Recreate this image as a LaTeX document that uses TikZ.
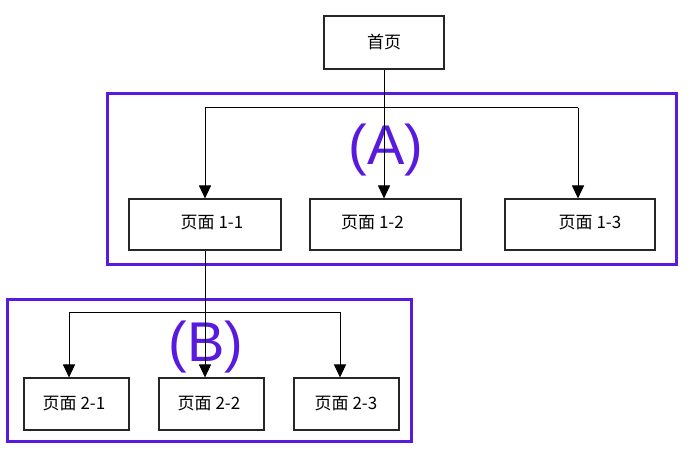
\documentclass[tikz,border=0pt]{standalone}
\usepackage{fontspec}
\setmainfont{Liberation Sans}
\newfontfamily\cjk{Noto Sans CJK SC}
\usetikzlibrary{arrows.meta}
\definecolor{frameblue}{RGB}{88,26,222}
\tikzset{
  pagebox/.style={draw=black!85, line width=1.1pt, fill=white, inner sep=0pt},
  conn/.style={draw=black, line width=1pt},
  arr/.style={conn, -{Triangle[length=13pt,width=12pt]}},
  groupframe/.style={draw=frameblue, line width=3pt},
  grouplabel/.style={text=frameblue, font=\fontsize{56}{56}\selectfont, inner sep=0pt},
  boxtext/.style={font=\cjk\fontsize{17}{17}\selectfont}
}
\begin{document}
\begin{tikzpicture}[x=1pt,y=-1pt]
\useasboundingbox (0,0) rectangle (700,450);
% group frames
\draw[groupframe] (107,93) rectangle (676,264);
\draw[groupframe] (7,299) rectangle (411,441);
% group labels
\node[grouplabel] (labA) at (386,150) {(A)};
\node[grouplabel] (labB) at (206,347) {(B)};
% boxes
\node[pagebox, minimum width=120pt, minimum height=53pt, boxtext] (home) at (384,42.5) {首页};
\node[pagebox, minimum width=152pt, minimum height=51pt, label={[boxtext, xshift=7pt, yshift=2pt]center:页面 1-1}] (p11) at (205,224.5) {};
\node[pagebox, minimum width=151pt, minimum height=51pt, label={[boxtext, xshift=-13pt, yshift=2pt]center:页面 1-2}] (p12) at (385.5,224.5) {};
\node[pagebox, minimum width=150pt, minimum height=51pt, label={[boxtext, xshift=10pt, yshift=2pt]center:页面 1-3}] (p13) at (580,224.5) {};
\node[pagebox, minimum width=105pt, minimum height=52pt, label={[boxtext, xshift=-2.5pt]center:页面 2-1}] (p21) at (76.5,404) {};
\node[pagebox, minimum width=105pt, minimum height=52pt, label={[boxtext, xshift=-2.5pt]center:页面 2-2}] (p22) at (211.5,404) {};
\node[pagebox, minimum width=105pt, minimum height=52pt, label={[boxtext, xshift=-0.5pt]center:页面 2-3}] (p23) at (346.5,404) {};
% bus coordinates
\coordinate (busAL) at (205,107.5);
\coordinate (busAR) at (578,107.5);
\coordinate (busBL) at (69,312);
\coordinate (busBR) at (340,312);
% connectors
\draw[conn] (busAL) -- (busAR);
\draw[arr] (home.south) -- (home.south |- p12.north);
\draw[arr] (busAL) -- (busAL |- p11.north);
\draw[arr] (busAR) -- (busAR |- p13.north);
\draw[conn] (busBL) -- (busBR);
\draw[arr] (p11.south) -- (p11.south |- p22.north);
\draw[arr] (busBL) -- (busBL |- p21.north);
\draw[arr] (busBR) -- (busBR |- p23.north);
\end{tikzpicture}
\end{document}
